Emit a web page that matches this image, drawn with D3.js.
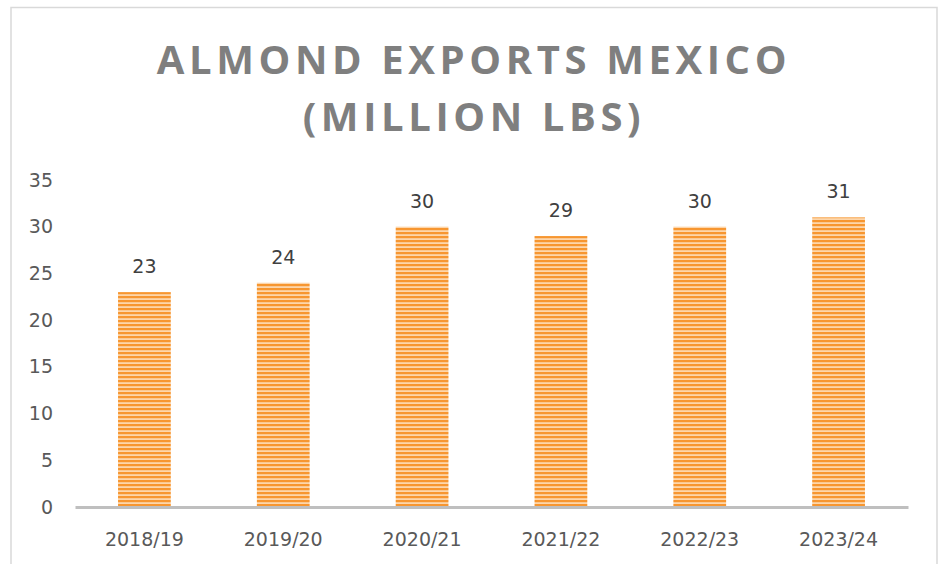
<!DOCTYPE html>
<html>
<head>
<meta charset="utf-8">
<script src="https://cdn.jsdelivr.net/npm/d3@7"></script>
<style>
  body { margin: 0; background: #fff; }
  svg { display: block; font-family: "Open Sans", "Liberation Sans", sans-serif; }
</style>
</head>
<body>
<svg id="chart" width="942" height="564"></svg>
<script>
const seasons = ["2018/19", "2019/20", "2020/21", "2021/22", "2022/23", "2023/24"];
const exports = [23, 24, 30, 29, 30, 31];
const yTicks = [0, 5, 10, 15, 20, 25, 30, 35];

const width = 942;
const height = 564;
const margin = { left: 75, right: 34, top: 180, bottom: 57 };
const labelFont = "DejaVu Sans, sans-serif";

const svg = d3.select("#chart");

// stripe fill
const defs = svg.append("defs");
const pat = defs.append("pattern")
    .attr("id", "stripes")
    .attr("patternUnits", "userSpaceOnUse")
    .attr("width", 8)
    .attr("height", 4);
pat.append("rect").attr("width", 8).attr("height", 4).attr("fill", "#fdd6ab");
pat.append("rect").attr("y", 0).attr("width", 8).attr("height", 2.2).attr("fill", "#f79630");

// outer frame
svg.append("rect")
    .attr("x", 11).attr("y", 7.5)
    .attr("width", 926).attr("height", 570)
    .attr("fill", "none")
    .attr("stroke", "#d9d9d9")
    .attr("stroke-width", 1.5);

// title
const title = svg.append("text")
    .attr("text-anchor", "middle")
    .attr("fill", "#7f7f7f")
    .attr("font-size", 40)
    .attr("font-weight", "bold")
    .attr("letter-spacing", 4.6);
title.append("tspan").attr("x", 474).attr("y", 74).text("ALMOND EXPORTS MEXICO");
title.append("tspan").attr("x", 474).attr("y", 131).text("(MILLION LBS)");

const x = d3.scaleBand()
    .domain(seasons)
    .range([margin.left, width - margin.right])
    .paddingInner(0.62)
    .paddingOuter(0.31);

const y = d3.scaleLinear()
    .domain([0, 35])
    .range([height - margin.bottom, margin.top]);

// y axis labels (no line)
const yAxis = svg.append("g")
    .attr("transform", `translate(${margin.left - 22},0)`)
    .call(d3.axisLeft(y).tickValues(yTicks).tickSize(0).tickPadding(0));
yAxis.select(".domain").remove();
yAxis.selectAll("text")
    .attr("font-size", 19)
    .attr("fill", "#595959")
    .attr("font-family", labelFont);

// bars
svg.selectAll(".bar")
    .data(exports)
    .enter()
    .append("rect")
    .attr("class", "bar")
    .attr("x", (d, i) => x(seasons[i]))
    .attr("y", d => y(d))
    .attr("width", x.bandwidth())
    .attr("height", d => y(0) - y(d))
    .attr("fill", "url(#stripes)");

// value labels
svg.selectAll(".value")
    .data(exports)
    .enter()
    .append("text")
    .attr("class", "value")
    .attr("x", (d, i) => x(seasons[i]) + x.bandwidth() / 2)
    .attr("y", d => y(d) - 19)
    .attr("text-anchor", "middle")
    .attr("font-size", 19)
    .attr("font-family", labelFont)
    .attr("fill", "#404040")
    .text(d => d);

// x axis
const xAxis = svg.append("g")
    .attr("transform", `translate(0,${y(0)})`)
    .call(d3.axisBottom(x).tickSize(0).tickPadding(26));
xAxis.select(".domain")
    .attr("stroke", "#bfbfbf")
    .attr("stroke-width", 3);
xAxis.selectAll("text")
    .attr("font-size", 19)
    .attr("fill", "#595959")
    .attr("font-family", labelFont);
</script>
</body>
</html>
